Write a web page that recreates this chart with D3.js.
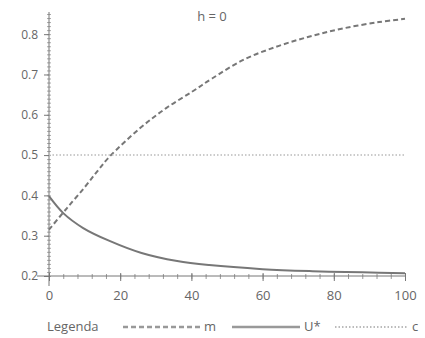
<!DOCTYPE html>
<html>
<head>
<meta charset="utf-8">
<script src="https://cdn.jsdelivr.net/npm/d3@7"></script>
<style>
  body { margin: 0; background: #fff; }
  text { font-family: "Open Sans", sans-serif; fill: #666; }
</style>
</head>
<body>
<svg width="425" height="338"></svg>
<script>
var svg = d3.select('svg'),
  width = +svg.attr('width'),
  height = +svg.attr('height');

// values
var mX = [0, 5, 10, 13.5, 17, 25.6, 33, 40.5, 45.8, 55, 64.6, 74, 83, 92.7, 100];
var mY = [0.315, 0.368, 0.42, 0.459, 0.496, 0.567, 0.617, 0.659, 0.69, 0.738, 0.771, 0.796, 0.815, 0.83, 0.838];
var uX = [0, 4, 9.6, 17, 26, 36, 45, 60, 74, 88, 100];
var uY = [0.398, 0.356, 0.319, 0.287, 0.257, 0.237, 0.227, 0.217, 0.212, 0.209, 0.207];
var cX = [0, 100];
var cY = [0.5, 0.5];
var xTicks = [0, 20, 40, 60, 80, 100];
var yTicks = [0.2, 0.3, 0.4, 0.5, 0.6, 0.7, 0.8];
var legendNames = ['m', 'U*', 'c'];

var x = d3.scaleLinear().domain([0, 100]).range([49, 405]);
var y = d3.scaleLinear().domain([0.2, 0.855]).range([276, 12]);

var grey = '#777';

// minor ticks
svg.append('g')
  .attr('transform', 'translate(0,' + y(0.2) + ')')
  .call(d3.axisBottom(x).tickValues(d3.range(0, 101, 4)).tickSize(3).tickFormat(''))
  .call(function(g) { g.select('.domain').remove(); })
  .selectAll('line').attr('stroke', '#999').attr('y1', -2);

svg.append('g')
  .attr('transform', 'translate(' + x(0) + ',0)')
  .call(d3.axisLeft(y).tickValues(d3.range(0.2, 0.851, 0.01)).tickSize(2).tickFormat(''))
  .call(function(g) { g.select('.domain').remove(); })
  .selectAll('line').attr('stroke', '#aaa').attr('x1', 2);

// main axes
var xAxis = svg.append('g')
  .attr('transform', 'translate(0,' + y(0.2) + ')')
  .call(d3.axisBottom(x).tickValues(xTicks).tickSize(5).tickPadding(10).tickSizeOuter(0));
xAxis.select('.domain').attr('stroke', grey).attr('d', 'M' + (x(0) - 12) + ',0H' + x(100));
xAxis.selectAll('.tick line').attr('stroke', grey).attr('y1', -3);
xAxis.selectAll('text').attr('font-size', 13).attr('fill', '#666');

var yAxis = svg.append('g')
  .attr('transform', 'translate(' + x(0) + ',0)')
  .call(d3.axisLeft(y).tickValues(yTicks).tickSize(5).tickPadding(6).tickSizeOuter(0).tickFormat(d3.format('.1f')));
yAxis.select('.domain').attr('stroke', grey).attr('d', 'M0,' + (y(0.2) + 10) + 'V' + y(0.855));
yAxis.selectAll('.tick line').attr('stroke', grey);
yAxis.selectAll('text').attr('font-size', 12).attr('fill', '#666');

var line = d3.line()
  .x(function(d) { return x(d[0]); })
  .y(function(d) { return y(d[1]); })
  .curve(d3.curveCatmullRom);

var styles = [
  { dash: '5,3', width: 2 },
  { dash: null, width: 2 },
  { dash: '1.5,2', width: 1.5 }
];

var series = [d3.zip(mX, mY), d3.zip(uX, uY), d3.zip(cX, cY)];

svg.append('g').selectAll('path')
  .data(series)
  .enter()
  .append('path')
  .attr('d', line)
  .attr('fill', 'none')
  .attr('stroke', function(d, i) { return i == 2 ? '#bbb' : grey; })
  .attr('stroke-width', function(d, i) { return styles[i].width; })
  .attr('stroke-dasharray', function(d, i) { return styles[i].dash; });

svg.append('text')
  .attr('x', 212)
  .attr('y', 21)
  .attr('text-anchor', 'middle')
  .attr('font-size', 13)
  .text('h = 0');

// legend
var lg = svg.append('g').attr('transform', 'translate(0,327)');
lg.append('text').attr('x', 47).attr('y', 4).attr('font-size', 13).text('Legenda');
var lx = [[123, 200], [232, 300], [335, 408]];
legendNames.forEach(function(n, i) {
  lg.append('line')
    .attr('x1', lx[i][0]).attr('x2', lx[i][1])
    .attr('y1', 0).attr('y2', 0)
    .attr('stroke', i == 2 ? '#bbb' : '#999')
    .attr('stroke-width', styles[i].width + 0.5)
    .attr('stroke-dasharray', styles[i].dash);
  lg.append('text').attr('x', lx[i][1] + 4).attr('y', 4).attr('font-size', 13).text(n);
});
</script>
</body>
</html>
